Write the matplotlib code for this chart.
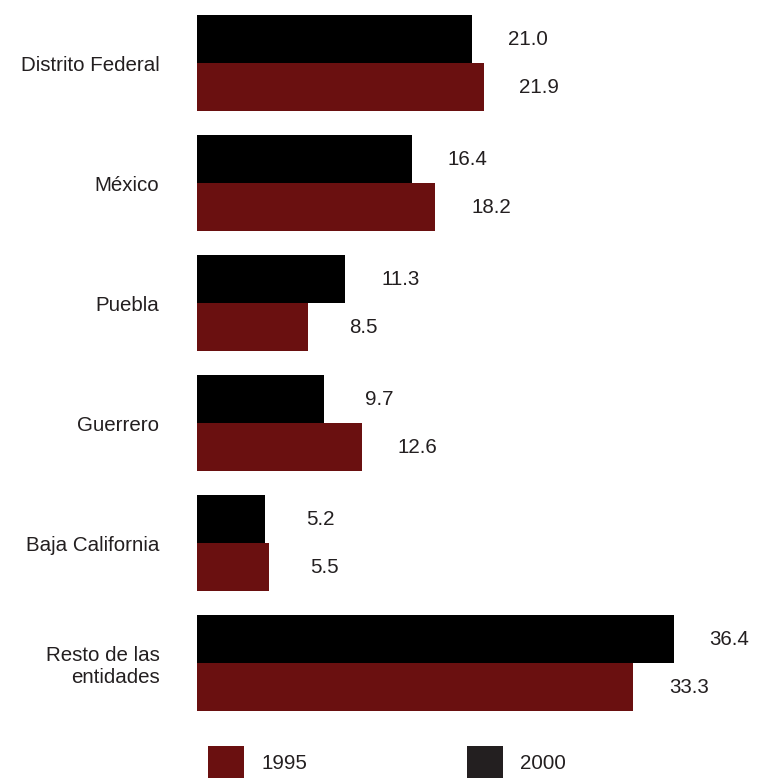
import matplotlib
matplotlib.use("Agg")
import matplotlib.pyplot as plt
import numpy as np
from matplotlib.patches import Patch

plt.rcParams['font.family'] = ['Liberation Sans', 'DejaVu Sans']

categories = ["Distrito Federal", "México", "Puebla", "Guerrero",
              "Baja California", "Resto de las\nentidades"]
values_2000 = [21.0, 16.4, 11.3, 9.7, 5.2, 36.4]
values_1995 = [21.9, 18.2, 8.5, 12.6, 5.5, 33.3]

RED = "#6A1010"
BLACK = "#000000"
TXT = "#231F20"
FS = 14.8

fig = plt.figure(figsize=(7.57, 7.79), dpi=100)
ax = fig.add_axes([197/757, 59/779, 550/757, 720/779])

y = np.arange(len(categories))
h = 0.4
ax.barh(y - h/2, values_2000, height=h, color=BLACK, label="2000")
ax.barh(y + h/2, values_1995, height=h, color=RED, label="1995")

for yi, v in zip(y - h/2, values_2000):
    ax.annotate(f"{v:.1f}", (v, yi), xytext=(40, 0), textcoords="offset points",
                ha="center", va="center", fontsize=FS, color=TXT)
for yi, v in zip(y + h/2, values_1995):
    ax.annotate(f"{v:.1f}", (v, yi), xytext=(40, 0), textcoords="offset points",
                ha="center", va="center", fontsize=FS, color=TXT)

ax.set_xlim(0, 42)
ax.set_ylim(5.475, -0.525)
ax.set_yticks(y)
ax.set_yticklabels(categories, fontsize=FS, color=TXT)
ax.tick_params(axis="y", length=0, pad=27)
ax.set_xticks([])
for s in ax.spines.values():
    s.set_visible(False)

handles = [Patch(facecolor=RED, edgecolor="none", label="1995"),
           Patch(facecolor="#231F20", edgecolor="none", label="2000")]
fig.legend(handles=handles, loc="center left",
           bbox_to_anchor=(208/757, 1 - 762/779), ncol=2, frameon=False,
           fontsize=FS, handlelength=1.75, handleheight=2.05, borderpad=0,
           borderaxespad=0, handletextpad=0.85, columnspacing=7.75,
           labelcolor=TXT)

fig.savefig("out.png", dpi=100)
